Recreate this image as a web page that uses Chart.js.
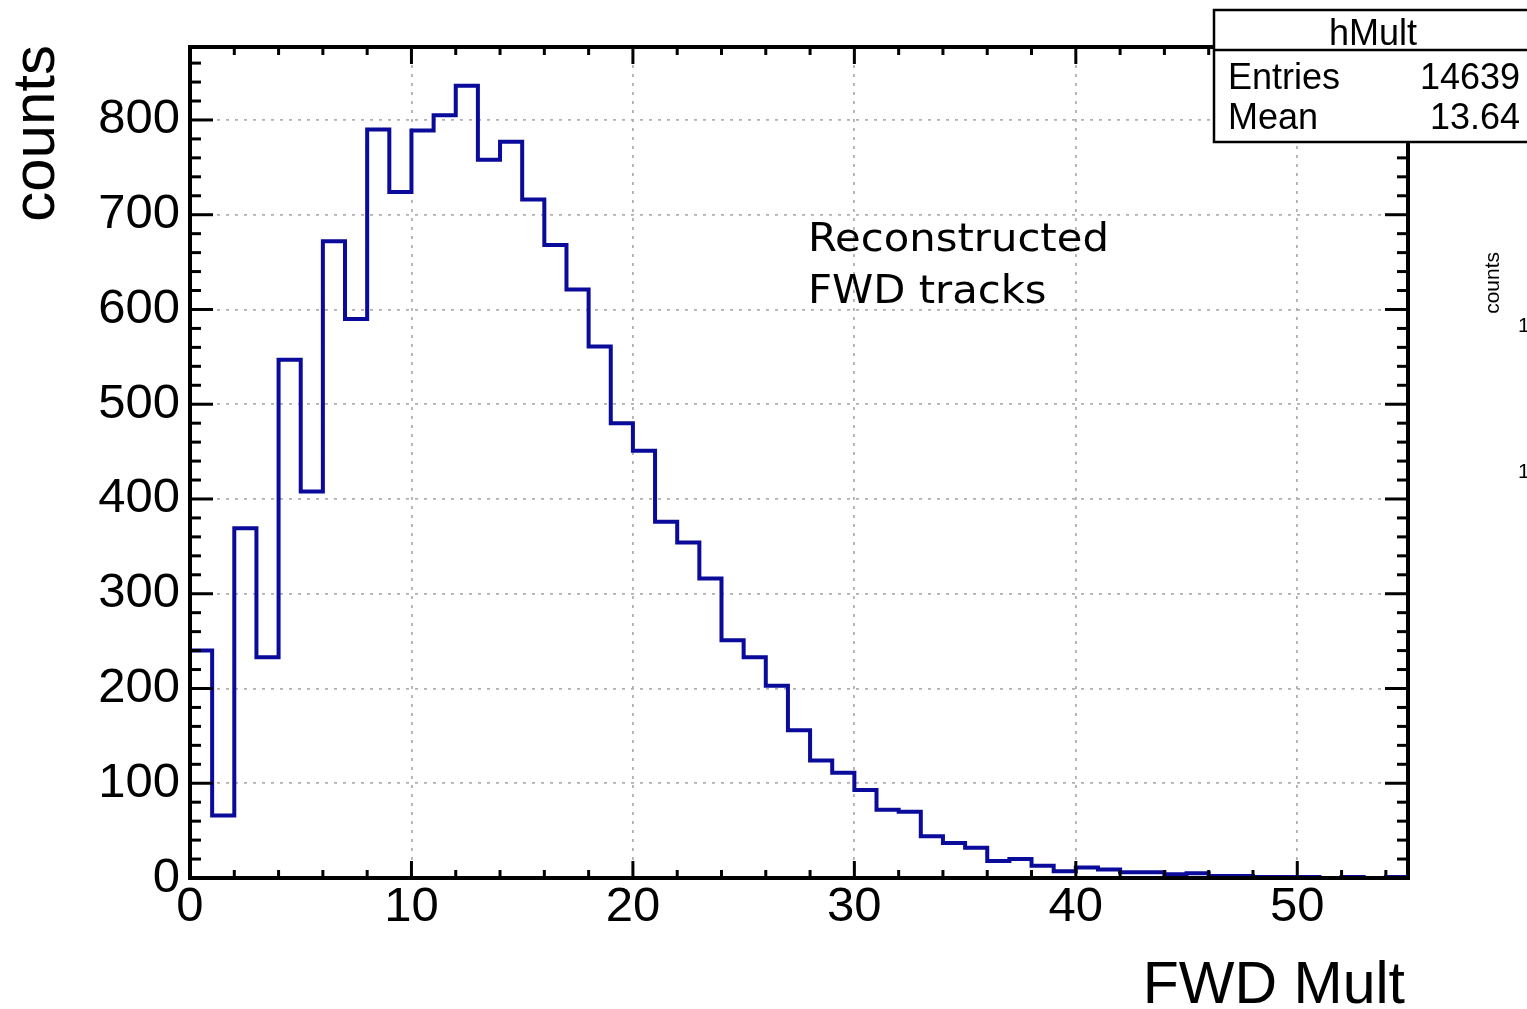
<!DOCTYPE html>
<html><head><meta charset="utf-8">
<script src="https://cdn.jsdelivr.net/npm/chart.js@4/dist/chart.umd.min.js"></script>
<style>html,body{margin:0;padding:0;background:#fff;overflow:hidden}#wrap{width:1527px;height:1009px;position:relative}</style>
</head><body><div id="wrap"><canvas id="c" width="1527" height="1009"></canvas></div>
<script>
// ---- data ----
const binLowEdges = [0,1,2,3,4,5,6,7,8,9,10,11,12,13,14,15,16,17,18,19,20,21,22,23,24,25,26,27,28,29,30,31,32,33,34,35,36,37,38,39,40,41,42,43,44,45,46,47,48,49,50,51,52,53,54];
const binUpperEdge = 55;
const counts = [240,66,369,233,547,408,672,590,790,724,789,805,836,758,777,716,668,621,561,480,451,376,354,316,251,233,203,156,124,111,93,72,70,44,37,32,18,20,13,7,11,9,6,6,4,5,2,2,1,1,1,0,1,0,1];
const xTickValues = [0,10,20,30,40,50];
const yTickValues = [0,100,200,300,400,500,600,700,800];
const xRange = [0,55];
const yRange = [0,877];
const xTitle = 'FWD Mult';
const yTitle = 'counts';
const histName = 'hMult';
const statLabels = ['Entries','Mean'];
const statValues = ['14639','13.64'];
const noteLines = ['Reconstructed','FWD tracks'];
const sideTitle = 'counts';
const sideTicks = ['1','1'];

const points = binLowEdges.map((e,i)=>({x:e,y:counts[i]}));
points.push({x:binUpperEdge,y:counts[counts.length-1]});

const tickFont = {family:'"Liberation Sans", Arial, sans-serif', size:49};

const rootStyle = {
  id:'rootStyle',
  afterDraw(chart){
    const {ctx, chartArea:a, scales:{x,y}} = chart;
    ctx.save();
    ctx.strokeStyle = '#000';
    ctx.lineWidth = 3;
    const line=(x1,y1,x2,y2)=>{ctx.beginPath();ctx.moveTo(x1,y1);ctx.lineTo(x2,y2);ctx.stroke();};
    for (let v=xRange[0]; v<=xRange[1]+1e-9; v+=2){
      const px = x.getPixelForValue(v);
      const L = (v%10===0)?17:8;
      line(px,a.bottom,px,a.bottom-L);
      line(px,a.top,px,a.top+L);
    }
    for (let v=yRange[0]; v<=yRange[1]; v+=20){
      const py = y.getPixelForValue(v);
      const L = (v%100===0)?23:11;
      line(a.left,py,a.left+L,py);
      line(a.right,py,a.right-L,py);
    }
    ctx.lineWidth = 4;
    ctx.strokeRect(a.left,a.top,a.right-a.left,a.bottom-a.top);

    ctx.fillStyle = '#000';
    // axis titles
    ctx.font = '59px "Liberation Sans", Arial, sans-serif';
    ctx.textAlign = 'right'; ctx.textBaseline = 'alphabetic';
    ctx.fillText(xTitle, 1405, 1003);
    ctx.save();
    ctx.translate(54, 45); ctx.rotate(-Math.PI/2);
    ctx.font = '60px "Liberation Sans", Arial, sans-serif';
    ctx.textAlign = 'right';
    ctx.fillText(yTitle, 0, 0);
    ctx.restore();

    // annotation
    ctx.save();
    ctx.translate(808, 0);
    ctx.scale(1.07, 1);
    ctx.font = '39px "DejaVu Sans", sans-serif';
    ctx.textAlign = 'left';
    ctx.fillText(noteLines[0], 0, 251);
    ctx.fillText(noteLines[1], 0, 303);
    ctx.restore();

    // stats box
    ctx.fillStyle = '#fff';
    ctx.fillRect(1214, 10, 330, 132);
    ctx.lineWidth = 2.5;
    ctx.strokeRect(1214, 10, 330, 132);
    line(1214, 50, 1544, 50);
    ctx.fillStyle = '#000';
    ctx.font = '36px "Liberation Sans", Arial, sans-serif';
    ctx.textAlign = 'center';
    ctx.fillText(histName, 1373, 45);
    ctx.textAlign = 'left';
    ctx.fillText(statLabels[0], 1228, 89);
    ctx.fillText(statLabels[1], 1228, 129);
    ctx.textAlign = 'right';
    ctx.fillText(statValues[0], 1520, 89);
    ctx.fillText(statValues[1], 1520, 129);

    // cut-off neighbour panel text
    ctx.font = '21px "Liberation Sans", Arial, sans-serif';
    ctx.save();
    ctx.translate(1499, 252); ctx.rotate(-Math.PI/2);
    ctx.textAlign = 'right';
    ctx.fillText(sideTitle, 0, 0);
    ctx.restore();
    ctx.textAlign = 'left';
    ctx.fillText(sideTicks[0], 1518, 332);
    ctx.fillText(sideTicks[1], 1518, 478);
    ctx.restore();
  }
};

new Chart(document.getElementById('c'), {
  type:'line',
  data:{datasets:[{
    label:histName,
    data:points,
    stepped:'before',
    borderColor:'rgb(10,10,155)',
    borderWidth:4,
    pointRadius:0,
    fill:false,
    tension:0
  }]},
  options:{
    responsive:false,
    animation:false,
    devicePixelRatio:1,
    layout:{padding:{left:0,top:47,right:119,bottom:0}},
    plugins:{legend:{display:false},tooltip:{enabled:false}},
    scales:{
      x:{
        type:'linear', min:xRange[0], max:xRange[1],
        afterBuildTicks:s=>{s.ticks = xTickValues.map(v=>({value:v}));},
        afterFit:s=>{s.height = 131;},
        ticks:{font:tickFont,color:'#000',padding:0,maxRotation:0,autoSkip:false,includeBounds:false},
        grid:{color:'#b0b0b0',lineWidth:1.8,drawTicks:false},
        border:{display:false,dash:[3,6]}
      },
      y:{
        type:'linear', min:yRange[0], max:yRange[1],
        afterBuildTicks:s=>{s.ticks = yTickValues.map(v=>({value:v}));},
        afterFit:s=>{s.width = 190;},
        ticks:{font:tickFont,color:'#000',padding:10,autoSkip:false,includeBounds:false},
        grid:{color:'#b0b0b0',lineWidth:1.8,drawTicks:false},
        border:{display:false,dash:[3,6]}
      }
    }
  },
  plugins:[rootStyle]
});
</script>
</body></html>
